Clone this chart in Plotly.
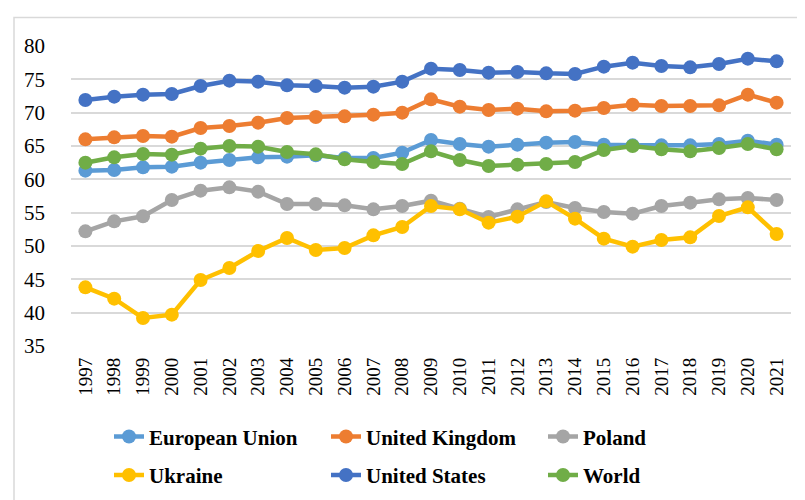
import plotly.graph_objects as go

years = [str(y) for y in range(1997, 2022)]

european_union = [61.3, 61.4, 61.8, 61.9, 62.5, 62.9, 63.3, 63.4, 63.6, 63.2, 63.2, 64.0, 65.9,
                  65.3, 64.9, 65.2, 65.5, 65.6, 65.2, 65.1, 65.1, 65.1, 65.3, 65.8, 65.2]
united_kingdom = [66.0, 66.3, 66.5, 66.4, 67.7, 68.0, 68.5, 69.2, 69.35, 69.45, 69.7, 70.0, 72.0,
                  70.9, 70.4, 70.6, 70.2, 70.3, 70.7, 71.2, 71.0, 71.0, 71.1, 72.7, 71.5]
poland = [52.2, 53.7, 54.45, 56.9, 58.3, 58.8, 58.15, 56.3, 56.3, 56.1, 55.5, 56.0, 56.8,
          55.6, 54.35, 55.5, 56.6, 55.7, 55.1, 54.85, 56.0, 56.5, 57.0, 57.2, 56.9]
ukraine = [43.8, 42.1, 39.2, 39.7, 44.9, 46.7, 49.25, 51.2, 49.4, 49.7, 51.6, 52.85, 56.0,
           55.5, 53.5, 54.4, 56.7, 54.1, 51.1, 49.9, 50.9, 51.3, 54.5, 55.8, 51.8]
united_states = [71.9, 72.4, 72.7, 72.8, 74.0, 74.8, 74.65, 74.1, 74.0, 73.75, 73.9, 74.65, 76.6,
                 76.4, 76.0, 76.1, 75.9, 75.8, 76.9, 77.5, 77.0, 76.8, 77.3, 78.1, 77.7]
world = [62.5, 63.3, 63.8, 63.7, 64.6, 65.0, 64.9, 64.1, 63.75, 63.0, 62.6, 62.3, 64.2,
         62.9, 62.0, 62.2, 62.3, 62.6, 64.4, 65.0, 64.5, 64.2, 64.7, 65.3, 64.5]

series = [
    ("European Union", european_union, "#5B9BD5", "legend"),
    ("United Kingdom", united_kingdom, "#ED7D31", "legend"),
    ("Poland", poland, "#A5A5A5", "legend"),
    ("Ukraine", ukraine, "#FFC000", "legend2"),
    ("United States", united_states, "#4472C4", "legend2"),
    ("World", world, "#70AD47", "legend2"),
]

fig = go.Figure()
for name, vals, color, leg in series:
    fig.add_trace(go.Scatter(
        x=years, y=vals, name=name, mode="lines+markers",
        line=dict(color=color, width=4.5),
        marker=dict(color=color, size=14),
        legend=leg,
    ))

font_family = "Liberation Serif"
legend_common = dict(
    orientation="h", xanchor="left", yanchor="middle",
    font=dict(family=font_family, size=21, color="#000000", weight="bold"),
    entrywidth=172, entrywidthmode="pixels",
    bgcolor="rgba(0,0,0,0)", itemclick=False, itemdoubleclick=False,
)

fig.update_layout(
    width=805, height=500,
    margin=dict(l=63, r=22, t=38, b=158),
    paper_bgcolor="white", plot_bgcolor="white",
    font=dict(family=font_family, color="#000000"),
    showlegend=True,
    legend=dict(x=(101 - 63) / 720, y=(342 - 434) / 304, **legend_common),
    legend2=dict(x=(101 - 63) / 720, y=(342 - 473) / 304, **legend_common),
    xaxis=dict(
        type="category", range=[-0.5, 24.5], tickangle=-90, showgrid=False, zeroline=False,
        showline=False, ticks="", automargin=False,
        tickfont=dict(size=19, family=font_family, color="#000000"),
        ticklabelstandoff=7,
    ),
    yaxis=dict(
        range=[35, 80], dtick=5, showgrid=True, gridcolor="#D9D9D9", gridwidth=1.5,
        zeroline=False, showline=False, ticks="", automargin=False,
        tickfont=dict(size=21, family=font_family, color="#000000"),
        ticklabelstandoff=25,
    ),
    shapes=[dict(
        type="rect", xref="paper", yref="paper",
        x0=(6 - 63) / 720, x1=(900 - 63) / 720,
        y0=(342 - 600) / 304, y1=(342 - 9) / 304,
        line=dict(color="#D9D9D9", width=1.5), layer="below",
    )],
)

fig.write_html("out.html")
